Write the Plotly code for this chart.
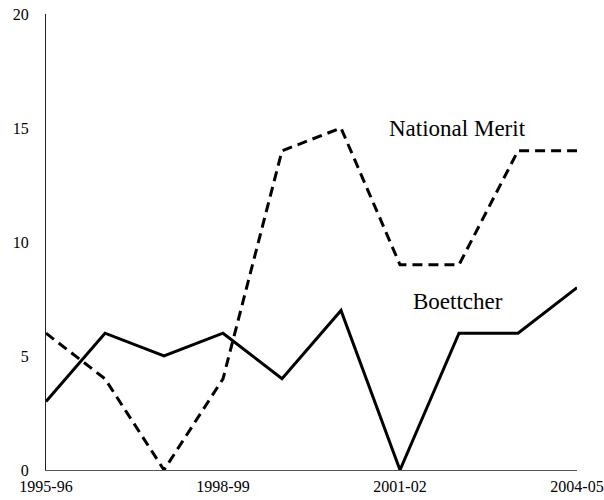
import plotly.graph_objects as go

years = ["1995-96", "1996-97", "1997-98", "1998-99", "1999-00",
         "2000-01", "2001-02", "2002-03", "2003-04", "2004-05"]
national_merit = [6, 4, 0, 4, 14, 15, 9, 9, 14, 14]
boettcher = [3, 6, 5, 6, 4, 7, 0, 6, 6, 8]
tick_years = ["1995-96", "1998-99", "2001-02", "2004-05"]
y_ticks = [0, 5, 10, 15, 20]

xi = list(range(len(years)))
tickvals = [years.index(t) for t in tick_years]

fig = go.Figure()
fig.add_trace(go.Scatter(x=xi, y=national_merit, mode="lines", name="National Merit",
                         line=dict(color="black", width=3, dash="10px,6px"), cliponaxis=False))
fig.add_trace(go.Scatter(x=xi, y=boettcher, mode="lines", name="Boettcher",
                         line=dict(color="black", width=3), cliponaxis=False))

font = "Liberation Serif, DejaVu Serif, serif"
fig.add_annotation(x=6.98, y=15.0, text="National Merit", showarrow=False,
                   font=dict(family=font, size=23, color="black"))
fig.add_annotation(x=6.98, y=7.4, text="Boettcher", showarrow=False,
                   font=dict(family=font, size=23, color="black"))

fig.update_layout(
    width=604, height=500,
    margin=dict(l=46, r=27, t=14, b=30, autoexpand=False),
    paper_bgcolor="white", plot_bgcolor="white",
    showlegend=False,
    font=dict(family=font, size=16, color="black"),
    xaxis=dict(range=[0, 9], tickvals=tickvals, ticktext=tick_years,
               showgrid=False, zeroline=False, showline=True, linecolor="#555",
               linewidth=1, ticks="", ticklen=0, automargin=False,
               ticklabelstandoff=2),
    yaxis=dict(range=[0, 20], tickvals=y_ticks, showgrid=False, zeroline=False,
               showline=True, linecolor="#222", linewidth=1, ticks="",
               ticklabelstandoff=13, automargin=False),
)
fig.write_html("out.html", config={"displayModeBar": False},
               post_script="document.body.style.margin='0';document.body.style.overflow='hidden';")
